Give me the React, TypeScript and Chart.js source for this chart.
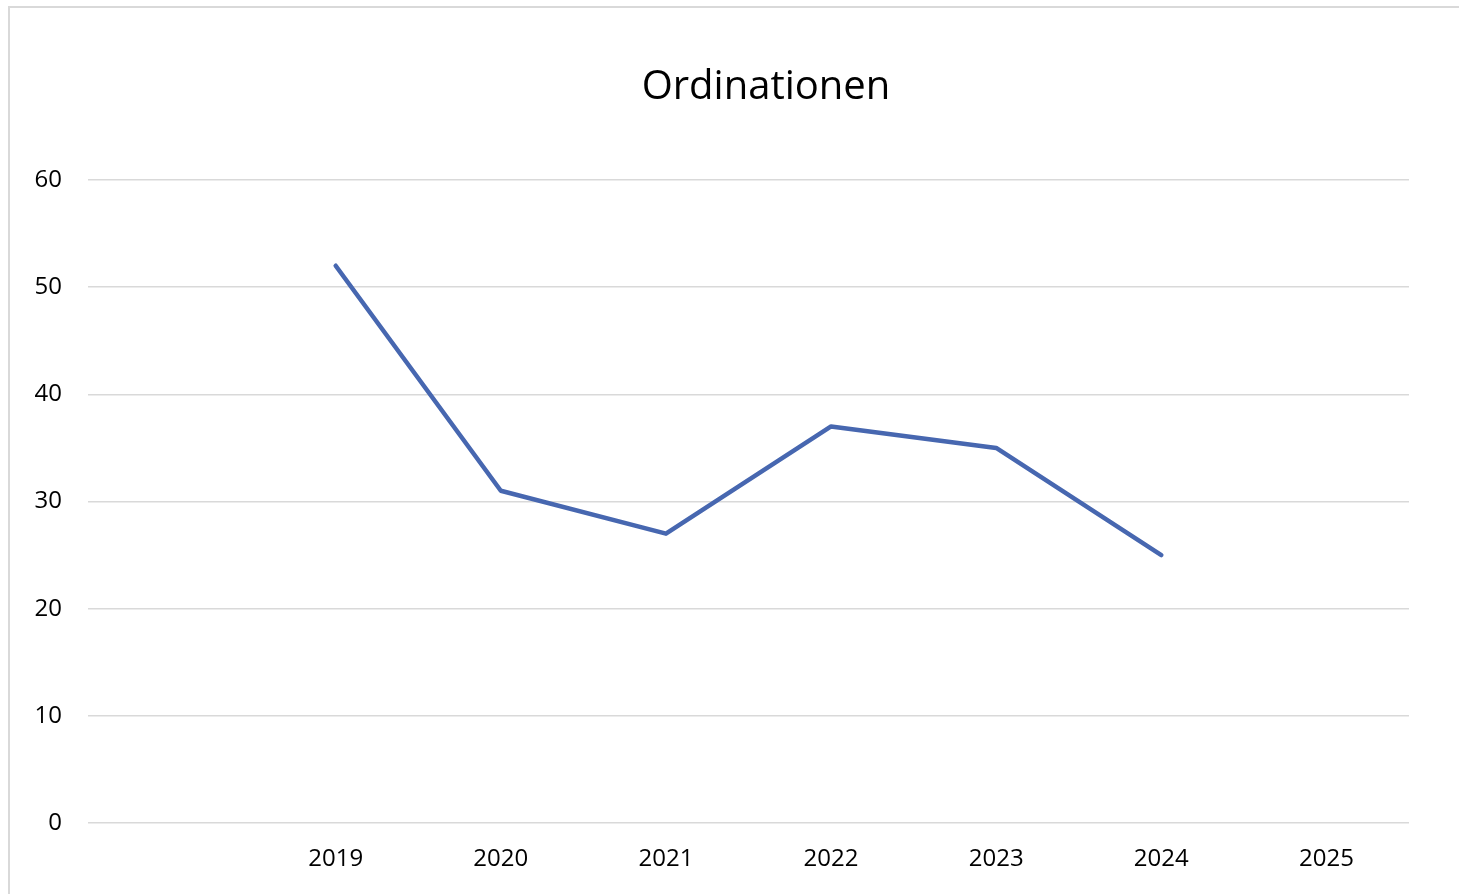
import React, { useEffect, useRef } from "react";
import { Chart, registerables } from "chart.js";

Chart.register(...registerables);

const categories: string[] = ["", "2019", "2020", "2021", "2022", "2023", "2024", "2025"];
const ordinationen: (number | null)[] = [null, 52, 31, 27, 37, 35, 25, null];
const titleText = "Ordinationen";
const yMin = 0;
const yMax = 60;
const yStep = 10;

export default function App() {
  const ref = useRef<HTMLCanvasElement | null>(null);

  useEffect(() => {
    document.body.style.overflow = "hidden";
    const canvas = ref.current;
    if (!canvas) return;
    const chart = new Chart(canvas, {
      type: "line",
      data: {
        labels: categories,
        datasets: [
          {
            label: titleText,
            data: ordinationen,
            borderColor: "#4767B0",
            backgroundColor: "#4767B0",
            borderWidth: 4.5,
            pointRadius: 0,
            pointHoverRadius: 0,
            tension: 0,
            borderCapStyle: "round",
            borderJoinStyle: "round",
            spanGaps: false,
          },
        ],
      },
      options: {
        animation: false,
        responsive: false,
        devicePixelRatio: 1,
        layout: { padding: { left: 0, right: 0, top: 0, bottom: 15 } },
        plugins: {
          legend: { display: false },
          tooltip: { enabled: false },
          title: {
            display: true,
            text: titleText,
            color: "#000000",
            font: { family: "'Open Sans'", size: 40, weight: "normal" },
            padding: { top: 56, bottom: 68 },
          },
        },
        scales: {
          x: {
            type: "category",
            offset: true,
            grid: { display: false, drawTicks: false },
            border: { display: false },
            ticks: {
              color: "#000000",
              font: { family: "'Open Sans'", size: 24 },
              padding: 22,
              autoSkip: false,
              maxRotation: 0,
            },
            afterFit: (s: any) => {
              s.height = 60;
            },
          },
          y: {
            min: yMin,
            max: yMax,
            grid: { color: "#d9d9d9", lineWidth: 1.5, drawTicks: false },
            border: { display: false },
            ticks: {
              stepSize: yStep,
              color: "#000000",
              font: { family: "'Open Sans'", size: 24 },
              padding: 26,
            },
            afterFit: (s: any) => {
              s.width = 78;
            },
          },
          yRight: {
            type: "linear",
            position: "right",
            display: true,
            grid: { display: false, drawTicks: false },
            border: { display: false },
            ticks: { display: false },
            afterFit: (s: any) => {
              s.width = 113;
            },
          },
        },
      },
    });
    return () => chart.destroy();
  }, []);

  return (
    <div
      style={{
        position: "fixed",
        left: 8,
        top: 6,
        width: 1512,
        height: 900,
        border: "2px solid #d9d9d9",
        background: "#ffffff",
        overflow: "hidden",
      }}
    >
      <canvas ref={ref} width={1512} height={890} style={{ display: "block" }} />
    </div>
  );
}
